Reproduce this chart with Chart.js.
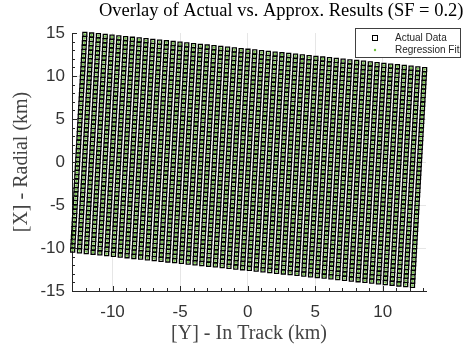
<!DOCTYPE html>
<html>
<head>
<meta charset="utf-8">
<script src="https://cdn.jsdelivr.net/npm/chart.js@4.4.0/dist/chart.umd.min.js"></script>
<style>
  html, body { margin: 0; padding: 0; background: #fff; }
  #wrap { width: 464px; height: 349px; }
</style>
</head>
<body>
<div id="wrap"><canvas id="chart" width="464" height="349"></canvas></div>
<script>
const gridCols = 51;
const gridRows = 51;
// corners of the patch as [Y in track, X radial]
const cornerTopLeft = [-12.05, 14.85];
const cornerTopRight = [13.1, 10.75];
const cornerBottomLeft = [-12.95, -10.25];

const xRange = [-13, 13.2];
const yRange = [-15, 15];
const xMajor = 5;
const yMajor = 5;

const titleText = 'Overlay of Actual vs. Approx. Results (SF = 0.2)';
const xLabel = '[Y] - In Track (km)';
const yLabel = '[X] - Radial (km)';
const seriesNames = ['Actual Data', 'Regression Fit'];

const green = '#6fc23f';
const ink = '#262626';

function latticePoints() {
    const pts = [];
    for (let c = 0; c < gridCols; c++) {
        for (let r = 0; r < gridRows; r++) {
            const u = c / (gridCols - 1);
            const v = r / (gridRows - 1);
            pts.push({
                x: cornerTopLeft[0] + u * (cornerTopRight[0] - cornerTopLeft[0]) + v * (cornerBottomLeft[0] - cornerTopLeft[0]),
                y: cornerTopLeft[1] + u * (cornerTopRight[1] - cornerTopLeft[1]) + v * (cornerBottomLeft[1] - cornerTopLeft[1])
            });
        }
    }
    return pts;
}

const actualData = latticePoints();
const fitData = latticePoints();

function intTicks(min, max) {
    const out = [];
    for (let v = Math.ceil(min); v <= Math.floor(max); v++) out.push({ value: v });
    return out;
}

// matlab style inward ticks, title and boxed legend
const matlabDecor = {
    id: 'matlabDecor',
    afterDraw(chart) {
        const { ctx, chartArea: a, scales } = chart;
        ctx.save();
        ctx.strokeStyle = ink;
        ctx.lineWidth = 1;
        ctx.beginPath();
        scales.x.ticks.forEach(t => {
            const px = Math.round(scales.x.getPixelForValue(t.value)) + 0.5;
            const len = t.value % xMajor === 0 ? 5 : 3;
            ctx.moveTo(px, a.bottom);
            ctx.lineTo(px, a.bottom - len);
        });
        scales.y.ticks.forEach(t => {
            const py = Math.round(scales.y.getPixelForValue(t.value)) + 0.5;
            const len = t.value % yMajor === 0 ? 5 : 3;
            ctx.moveTo(a.left, py);
            ctx.lineTo(a.left + len, py);
        });
        ctx.stroke();

        // title
        ctx.fillStyle = '#000';
        ctx.font = '18.5px "Liberation Serif"';
        ctx.textAlign = 'left';
        ctx.textBaseline = 'alphabetic';
        ctx.fillText(titleText, 99, 16);

        // legend box
        ctx.fillStyle = '#fff';
        ctx.fillRect(356, 29, 104, 28);
        ctx.strokeStyle = '#404040';
        ctx.strokeRect(355.5, 28.5, 105, 29);
        ctx.strokeStyle = '#000';
        ctx.strokeRect(372.5, 35.5, 5, 5);
        ctx.fillStyle = green;
        ctx.beginPath();
        ctx.arc(375, 50, 1.2, 0, Math.PI * 2);
        ctx.fill();
        ctx.fillStyle = ink;
        ctx.font = '10px "Liberation Sans"';
        ctx.textBaseline = 'middle';
        ctx.fillText(seriesNames[0], 395, 38.5);
        ctx.fillText(seriesNames[1], 395, 50.5);
        ctx.restore();
    }
};

new Chart(document.getElementById('chart'), {
    type: 'scatter',
    data: {
        datasets: [
            {
                label: seriesNames[1],
                data: fitData,
                order: 0,
                pointStyle: 'circle',
                pointRadius: 1.15,
                pointBorderWidth: 0,
                pointBackgroundColor: green,
                clip: false
            },
            {
                label: seriesNames[0],
                data: actualData,
                order: 1,
                pointStyle: 'rect',
                pointRadius: 2.8,
                pointBorderWidth: 1.3,
                pointBorderColor: '#000',
                pointBackgroundColor: 'rgba(255,255,255,0)',
                clip: false
            }
        ]
    },
    options: {
        responsive: false,
        animation: false,
        devicePixelRatio: 1,
        events: [],
        layout: { padding: { top: 33, right: 38, bottom: 0, left: 0 } },
        plugins: {
            legend: { display: false },
            tooltip: { enabled: false },
            title: { display: false }
        },
        scales: {
            x: {
                type: 'linear',
                min: xRange[0],
                max: xRange[1],
                afterBuildTicks: s => { s.ticks = intTicks(xRange[0], xRange[1]); },
                afterFit: s => { s.height = 58; },
                ticks: {
                    autoSkip: false,
                    maxRotation: 0,
                    padding: 11,
                    color: '#333',
                    font: { family: 'Liberation Sans', size: 17 },
                    callback: v => (v % xMajor === 0 ? String(v) : '')
                },
                grid: {
                    drawTicks: false,
                    color: c => (c.tick && c.tick.value % xMajor === 0 ? '#e6e6e6' : 'rgba(0,0,0,0)')
                },
                border: { display: true, color: ink, width: 1 },
                title: {
                    display: true,
                    text: xLabel,
                    color: '#444',
                    font: { family: 'Liberation Serif', size: 20 },
                    padding: { top: 0, bottom: 3 }
                }
            },
            y: {
                type: 'linear',
                min: yRange[0],
                max: yRange[1],
                afterBuildTicks: s => { s.ticks = intTicks(yRange[0], yRange[1]); },
                afterFit: s => { s.width = 72; },
                ticks: {
                    autoSkip: false,
                    padding: 7,
                    color: '#333',
                    font: { family: 'Liberation Sans', size: 17 },
                    callback: v => (v % yMajor === 0 ? String(v) : '')
                },
                grid: {
                    drawTicks: false,
                    color: c => (c.tick && c.tick.value % yMajor === 0 && Math.abs(c.tick.value) < 15 ? '#e6e6e6' : 'rgba(0,0,0,0)')
                },
                border: { display: true, color: ink, width: 1 },
                title: {
                    display: true,
                    text: yLabel,
                    color: '#444',
                    font: { family: 'Liberation Serif', size: 20 },
                    padding: { top: 10, bottom: 0 }
                }
            }
        }
    },
    plugins: [matlabDecor]
});
</script>
</body>
</html>
